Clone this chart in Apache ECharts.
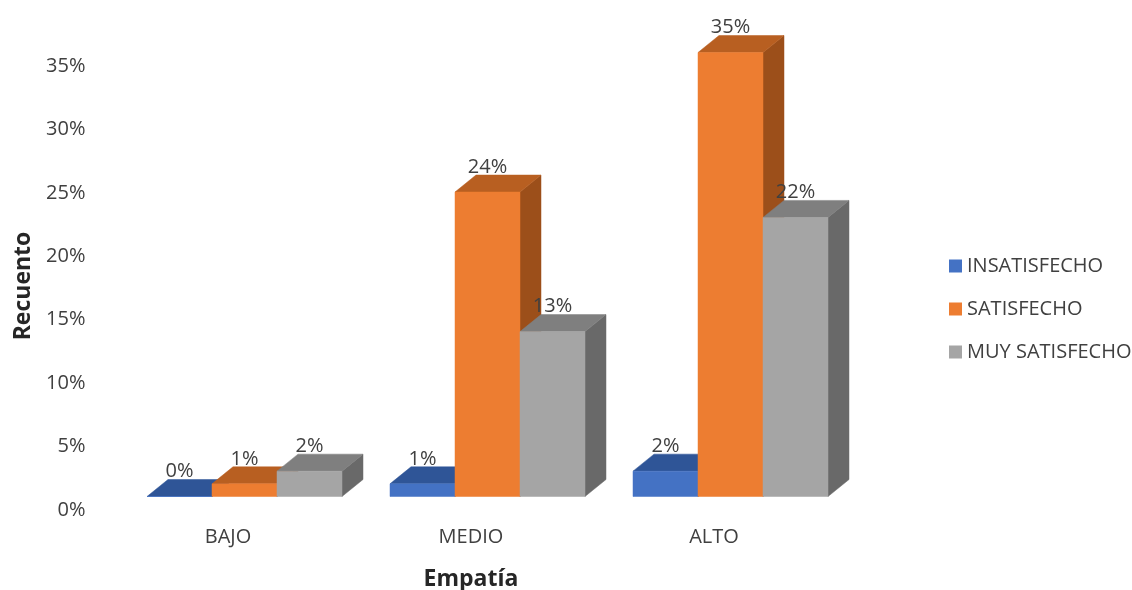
<!DOCTYPE html>
<html>
<head>
<meta charset="utf-8">
<script src="https://cdn.jsdelivr.net/npm/echarts@6/dist/echarts.min.js"></script>
<style>
  html, body { margin: 0; padding: 0; background: #fff; }
  #chart { width: 1132px; height: 590px; }
</style>
</head>
<body>
<div id="chart"></div>
<script>
// Niveles de empatía y porcentaje de cada grupo de satisfacción
const categories = ['BAJO', 'MEDIO', 'ALTO'];
const insatisfecho = [0, 1, 2];
const satisfecho = [1, 24, 35];
const muySatisfecho = [2, 13, 22];
const tickLabels = ['0%', '5%', '10%', '15%', '20%', '25%', '30%', '35%'];

const FONT = '"Open Sans", sans-serif';
const TEXT = '#404040';

// Proyección de la caja: desplazamiento del plano frontal y profundidad
const FRONT_DX = 16.5, FRONT_DY = -11.5;
const DEPTH_DX = 21, DEPTH_DY = -17;
const BAR_RATIO = 65 / 243;

function box(slot, palette) {
  return function (params, api) {
    const cat = api.value(0), val = api.value(1);
    const bandW = api.size([1, 0])[0];
    const w = bandW * BAR_RATIO;
    const base = api.coord([cat, 0]);
    const top = api.coord([cat, val]);
    const x0 = base[0] + FRONT_DX + (slot - 1.5) * w;
    const x1 = x0 + w;
    const y0 = base[1] + FRONT_DY;
    const y1 = top[1] + FRONT_DY;
    const poly = (points, fill) => ({
      type: 'polygon',
      shape: { points },
      style: { fill, stroke: fill, lineWidth: 0.5 }
    });
    return {
      type: 'group',
      children: [
        poly([[x1, y0], [x1 + DEPTH_DX, y0 + DEPTH_DY], [x1 + DEPTH_DX, y1 + DEPTH_DY], [x1, y1]], palette.side),
        poly([[x0, y1], [x0 + DEPTH_DX, y1 + DEPTH_DY], [x1 + DEPTH_DX, y1 + DEPTH_DY], [x1, y1]], palette.top),
        poly([[x0, y0], [x1, y0], [x1, y1], [x0, y1]], palette.front)
      ]
    };
  };
}

// Las etiquetas van en una serie aparte para quedar sobre todas las cajas
function labelItem(slot) {
  return function (params, api) {
    const cat = api.value(0), val = api.value(1);
    const w = api.size([1, 0])[0] * BAR_RATIO;
    const top = api.coord([cat, val]);
    return {
      type: 'text',
      style: {
        x: top[0] + FRONT_DX + (slot - 1) * w,
        y: top[1] + FRONT_DY + DEPTH_DY - 8,
        text: val + '%',
        fill: TEXT,
        font: '20px ' + FONT,
        align: 'center',
        verticalAlign: 'middle'
      }
    };
  };
}

function series3d(name, values, slot, palette) {
  const data = values.map((v, i) => [i, v]);
  return [
    {
      name,
      type: 'custom',
      renderItem: box(slot, palette),
      itemStyle: { color: palette.front },
      encode: { x: 0, y: 1 },
      clip: false,
      z: 2 + slot,
      data
    },
    {
      type: 'custom',
      renderItem: labelItem(slot),
      encode: { x: 0, y: 1 },
      clip: false,
      silent: true,
      z: 10,
      data
    }
  ];
}

const chart = echarts.init(document.getElementById('chart'), null, { renderer: 'canvas' });
chart.setOption({
  animation: false,
  backgroundColor: '#fff',
  grid: { left: 106.5, width: 729, top: 64, height: 444, outerBoundsMode: 'none' },
  legend: {
    orient: 'vertical',
    left: 944,
    top: 251,
    itemWidth: 13,
    itemHeight: 13,
    itemGap: 23,
    icon: 'rect',
    data: ['INSATISFECHO', 'SATISFECHO', 'MUY SATISFECHO'],
    textStyle: { color: TEXT, fontFamily: FONT, fontSize: 20, padding: 0 }
  },
  xAxis: {
    type: 'category',
    data: categories,
    name: 'Empatía',
    nameLocation: 'middle',
    nameGap: 60,
    nameTextStyle: { color: '#262626', fontFamily: FONT, fontSize: 23, fontWeight: 'bold' },
    axisLine: { show: false },
    axisTick: { show: false },
    axisLabel: { color: TEXT, fontFamily: FONT, fontSize: 20, margin: 19 }
  },
  yAxis: {
    type: 'value',
    min: 0,
    max: 35,
    interval: 5,
    name: 'Recuento',
    nameLocation: 'middle',
    nameGap: 72,
    nameTextStyle: { color: '#262626', fontFamily: FONT, fontSize: 23, fontWeight: 'bold' },
    axisLine: { show: false },
    axisTick: { show: false },
    splitLine: { show: false },
    axisLabel: {
      color: TEXT,
      fontFamily: FONT,
      fontSize: 20,
      margin: 21,
      formatter: (v) => '{t|' + tickLabels[v / 5] + '}',
      rich: {
        t: { color: TEXT, fontFamily: FONT, fontSize: 20, padding: [4, 0, 0, 0] }
      }
    }
  },
  series: [
    ...series3d('INSATISFECHO', insatisfecho, 0, { front: '#4472C4', top: '#2F5597', side: '#2F5597' }),
    ...series3d('SATISFECHO', satisfecho, 1, { front: '#ED7D31', top: '#B85F21', side: '#9C4F1A' }),
    ...series3d('MUY SATISFECHO', muySatisfecho, 2, { front: '#A5A5A5', top: '#7F7F7F', side: '#696969' })
  ]
});
</script>
</body>
</html>
